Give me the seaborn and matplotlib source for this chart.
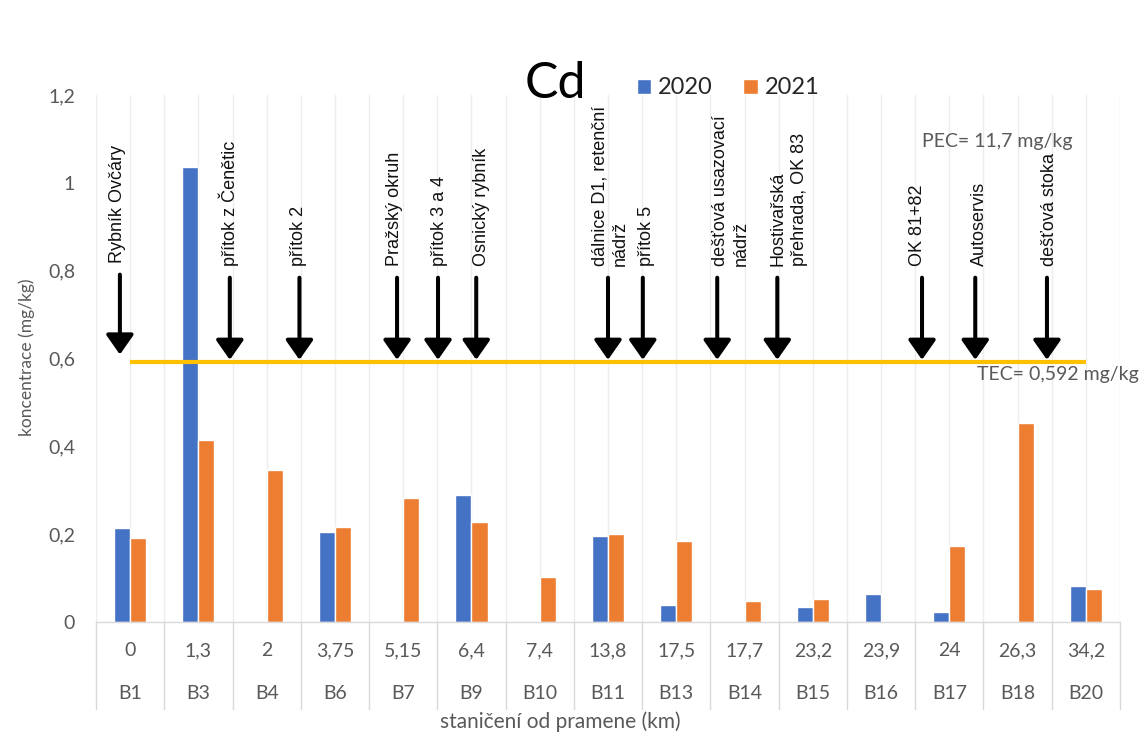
import numpy as np
import pandas as pd
import matplotlib
matplotlib.use("Agg")
import matplotlib.pyplot as plt
from matplotlib.patches import Patch
from matplotlib.transforms import blended_transform_factory
import seaborn as sns

# --- data -------------------------------------------------------------
km_labels = ["0", "1,3", "2", "3,75", "5,15", "6,4", "7,4", "13,8", "17,5",
             "17,7", "23,2", "23,9", "24", "26,3", "34,2"]
sites = ["B1", "B3", "B4", "B6", "B7", "B9", "B10", "B11", "B13", "B14",
         "B15", "B16", "B17", "B18", "B20"]
nan = np.nan
cd_2020 = [0.214, 1.037, nan, 0.204, nan, 0.290, nan, 0.196, 0.039, nan,
           0.034, 0.064, 0.022, nan, 0.083]
cd_2021 = [0.191, 0.415, 0.347, 0.216, 0.282, 0.228, 0.103, 0.201, 0.184,
           0.047, 0.052, nan, 0.172, 0.454, 0.076]
years = ["2020", "2021"]
TEC = 0.592
PEC = 11.7

sources = ["Rybník Ovčáry", "přítok z Čenětic", "přítok 2", "Pražský okruh",
           "přítok 3 a 4", "Osnický rybník", "dálnice D1, retenční\nnádrž",
           "přítok 5", "dešťová usazovací\nnádrž", "Hostivařská\npřehrada, OK 83",
           "OK 81+82", "Autoservis", "dešťová stoka"]

# --- layout (category units along x, concentration along y) -----------
arrow_x = [-0.15, 1.46, 2.48, 3.91, 4.51, 5.07, 7.00, 7.51, 8.60, 9.48,
           11.60, 12.38, 13.43]
label_x = [-0.19, 1.45, 2.46, 3.87, 4.53, 5.14, 7.03, 7.57, 8.80, 9.65,
           11.53, 12.44, 13.46]
arrow_tip = [0.609] + [0.597] * 12
arrow_tail = [0.791] + [0.784] * 12
label_bottom = [0.818] + [0.811] * 12

BLUE = "#4472C4"
ORANGE = "#ED7D31"
YELLOW = "#FFC000"
GREY_TXT = "#595959"
GREY_LINE = "#D9D9D9"

sns.set_theme(style="white")
plt.rcParams["font.family"] = ["Lato", "DejaVu Sans"]

df = pd.DataFrame({
    "site": sites * 2,
    "year": [years[0]] * len(sites) + [years[1]] * len(sites),
    "value": cd_2020 + cd_2021,
})

W, H = 1139, 738
fig = plt.figure(figsize=(W / 100, H / 100), dpi=100)
ax = fig.add_axes([96 / W, 1 - 622 / H, (1120 - 96) / W, (622 - 95) / H])

n = len(sites)
# light vertical grid at every half category
for g in np.arange(-0.5, n, 0.5):
    ax.axvline(g, color="#EDEDED", lw=1, zorder=0)

sns.barplot(data=df, x="site", y="value", hue="year", order=sites,
            hue_order=years, palette=[BLUE, ORANGE], width=0.47,
            saturation=1, errorbar=None, legend=False, ax=ax, zorder=2)

ax.set_xlim(-0.5, n - 0.5)
ax.set_ylim(0, 1.2)

# TEC threshold line
ax.plot([0, n - 1], [TEC, TEC], color=YELLOW, lw=3, solid_capstyle="butt",
        zorder=3)

# pollution source arrows and labels
for xa, tip, tail in zip(arrow_x, arrow_tip, arrow_tail):
    ax.annotate("", xy=(xa, tip), xytext=(xa, tail),
                arrowprops=dict(arrowstyle="-|>,head_length=0.6,head_width=0.42",
                                mutation_scale=20, lw=2.9, color="black",
                                shrinkA=0, shrinkB=0), zorder=4)
for txt, xl, yb in zip(sources, label_x, label_bottom):
    ax.text(xl, yb, txt, rotation=90, ha="center", va="bottom",
            multialignment="left", linespacing=1.3, fontsize=13,
            family=["Liberation Sans", "DejaVu Sans"], color="#111111",
            zorder=4)

# axes styling
for s in ["top", "right", "left"]:
    ax.spines[s].set_visible(False)
ax.spines["bottom"].set_color(GREY_LINE)
ax.spines["bottom"].set_linewidth(1)
yt = np.arange(0, 1.21, 0.2)
ax.set_yticks(yt, [f"{v:g}".replace(".", ",") for v in np.round(yt, 1)])
ax.tick_params(axis="y", length=0, pad=15, labelsize=14, labelcolor=GREY_TXT)
ax.set_xticks([])
ax.set_xlabel("")
ax.set_ylabel("")

# two-level category axis
tr = blended_transform_factory(ax.transData, ax.transAxes)
for i in range(n):
    ax.text(i, -0.055, km_labels[i], transform=tr, ha="center", va="center",
            fontsize=14, color=GREY_TXT)
    ax.text(i, -0.1366, sites[i], transform=tr, ha="center", va="center",
            fontsize=14, color=GREY_TXT)
for b in np.arange(-0.5, n, 1.0):
    ax.plot([b, b], [0, -0.165], transform=tr, color=GREY_LINE, lw=1,
            clip_on=False)

fig.text(560 / W, 1 - 722 / H, "staničení od pramene (km)", ha="center",
         va="center", fontsize=15, color=GREY_TXT)
fig.text(27 / W, 1 - 357 / H, "koncentrace (mg/kg)", rotation=90,
         ha="center", va="center", fontsize=12.5, color=GREY_TXT)

# threshold annotations
fig.text(922 / W, 1 - 147 / H, f"PEC= {PEC:g}".replace(".", ",") + " mg/kg",
         ha="left", va="baseline", fontsize=14, color=GREY_TXT)
fig.text(977 / W, 1 - 380 / H, f"TEC= {TEC:g}".replace(".", ",") + " mg/kg",
         ha="left", va="baseline", fontsize=14, color=GREY_TXT)

# title and legend
fig.text(555 / W, 1 - 98 / H, "Cd", ha="center", va="baseline", fontsize=36,
         color="black")
handles = [Patch(facecolor=BLUE, label=years[0]),
           Patch(facecolor=ORANGE, label=years[1])]
fig.legend(handles=handles, ncol=2, frameon=False, loc="center",
           bbox_to_anchor=(728 / W, 1 - 88 / H), fontsize=17,
           handlelength=0.6, handleheight=0.6, handletextpad=0.3,
           columnspacing=1.3, borderaxespad=0)

fig.savefig("out.png", dpi=100)
